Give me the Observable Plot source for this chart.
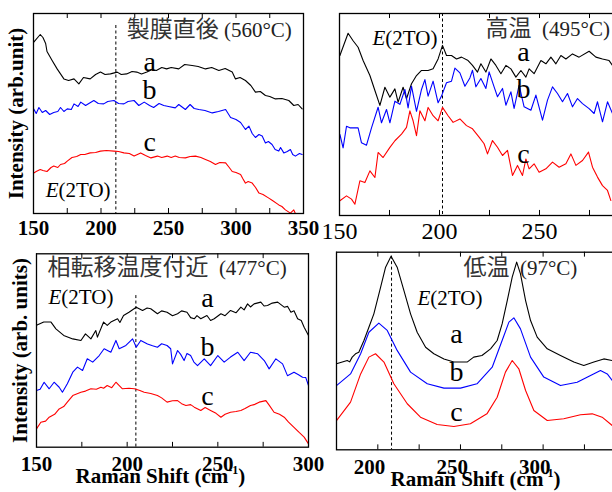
<!DOCTYPE html>
<html><head><meta charset="utf-8">
<script src="https://cdn.jsdelivr.net/npm/d3@7"></script>
<script src="https://cdn.jsdelivr.net/npm/@observablehq/plot@0.6"></script>
<style>
body{margin:0;background:#fff;}
#wrap{position:relative;width:612px;height:492px;overflow:hidden;background:#fff;}
#wrap svg{position:absolute;}
</style></head><body><div id="wrap"></div>
<script>
// ---------- Panel 1: 製膜直後 (560°C) ----------
const p1a = [[150.2,85.7],[155,89.5],[157,88],[159,85],[160,81],[163.8,76.5],[167.5,72.3],[172.5,67.3],[176,66.5],[180,67.3],[183.6,64.8],[187,68],[192,67.3],[196,69.5],[199.6,70.7],[203,69.5],[207,69.8],[212,70.7],[215,69.5],[219,69.8],[223,71],[226.5,70.7],[230,69.8],[234,70.7],[238,72],[241,71.5],[245,73],[248.6,72.3],[252,73],[257.6,72.3],[262,74.5],[267.5,74],[272,73.5],[277.4,72.3],[282,73],[287.3,71.5],[292,72.5],[297.2,70.7],[299.6,67.3],[303,68],[307,66.5],[311,64],[314.4,60.7],[318,61],[321.8,59],[325,58.5],[329.2,57.3],[334,57.5],[339.1,56.5],[342.8,54],[346,54.5],[349,52.3]];
const p1b = [[150.2,52.3],[152,50],[154,53],[156.5,50.5],[159,51.5],[162,49.5],[165,50.5],[168,51],[170,53],[172.5,51],[175,52.3],[178,52],[180,54.8],[183,53.5],[185,55.7],[188.6,54],[191,55],[194.7,56.5],[198,55],[202,54.8],[205,56],[209.6,56.5],[213,55],[217,54.8],[220,56],[224.5,56.5],[228,54],[232,55.7],[236,54],[239,53],[243,55],[246.5,54],[250,53.5],[255,52.8],[257.6,54.5],[262.5,52],[266,54.5],[269,52.5],[272.5,52],[277,51.5],[282.4,50.3],[287,51],[292.3,52],[296,48],[300,47],[303.4,45.5],[307,42],[309.6,43.7],[312,40],[314.4,38],[317,39.5],[319.4,38.7],[321.8,35.3],[324,36],[326.7,34.5],[329,32],[331.7,31.2],[333,33],[335.4,30.3],[338,31],[340.3,32],[342,29.5],[344,28.7],[347,30],[349,29.5]];
const p1c = [[150.2,20.3],[152,21],[155,22],[157,21.5],[160,21],[163,23],[165,23.7],[168,23],[170,24.5],[173,25],[175,26.2],[178.5,28],[182,28.5],[185,29.5],[188,29.5],[192,30.3],[196,30.5],[199.6,31.2],[204,31.5],[209.6,31.2],[213,31],[217,30.3],[221,30],[224.5,28.7],[227,29.5],[229.4,30.3],[233,29],[237,27.8],[241.8,28.7],[245,28],[249,28.7],[252,28],[255,28.7],[258,28],[262.5,27.8],[266,28.5],[270,28.7],[274,28],[277.4,27],[281,26],[284.8,24.5],[288,25.5],[292.3,25.3],[295,23],[297.2,21],[300,20.5],[303.4,19.5],[305,17.5],[307,15.2],[309,16],[312,15.2],[314.5,13],[317,10.2],[320,9.5],[324.3,7.7],[327,6.5],[331.7,4.3],[334,3.5],[336.6,1.8],[340.3,0.2],[342.8,1.8],[344,0]];

// ---------- Panel 2: 高温 (495°C) ----------
const p2a = [[150.2,79.2],[154.3,90.2],[156.8,86.5],[159.3,83.3],[161.8,76.7],[165.2,69.3],[167.7,61.9],[170.2,54.5],[172.7,63.5],[175.2,58.6],[177.7,62.7],[179.3,56.1],[181.8,63.5],[183.5,57.8],[186,65.2],[188.5,69.3],[191,71.8],[194.3,71.8],[196.8,72.6],[199.3,77.5],[201.5,84.2],[203.5,79.2],[206,79.2],[208.5,77.5],[211,78.4],[214.3,76.7],[216.5,74.3],[219,71],[220.7,75.1],[223.2,71],[225.7,77.5],[228.2,74.3],[230.7,70.2],[233.2,74.3],[235.7,72.6],[238.2,68.5],[240.7,71.8],[243.2,68.5],[244.8,72.6],[247.3,70.2],[250.7,76.7],[253.2,75.1],[255.7,78.4],[258.2,75.1],[260.7,79.2],[263.2,77.5],[266.5,80],[269.8,78.4],[274.8,81.3],[278.2,78.4],[281.5,77.5],[284.8,76.7],[286.5,74.3]];
const p2b = [[150.2,40.1],[151.8,33.5],[153.5,44.2],[155.2,43.4],[159.3,43.4],[161,36],[163.5,34.8],[166,43.4],[169.3,53.6],[171,45.9],[173.5,52.5],[175.2,45.9],[177.7,56.6],[180.2,55],[182.7,62.4],[184.3,53.3],[186,64],[188.5,51.6],[191,62.4],[192.7,67.3],[194.3,59.1],[196.8,66.5],[199.3,55.8],[201,59.1],[203.5,65.7],[206,66.5],[207.7,73],[210.2,70.6],[212.7,64],[215.2,68.1],[216.5,71.9],[218.2,63.7],[220.7,67.8],[223.2,62.9],[224.8,71.1],[227.3,63.7],[229,58.8],[231.5,62.9],[233.2,54.6],[235.7,61.2],[237.3,53],[239.8,64.5],[242.3,53.8],[245.7,52.1],[248.2,59.6],[251.5,47.2],[254,57.1],[256.5,63.7],[259,60.4],[261.5,56.3],[264,60.4],[266.5,53.8],[269,57.9],[271.5,55.4],[274.8,52.9],[277.3,50.5],[279,56.3],[281.5,46.4],[284,56.3],[286.5,50.5]];
const p2c = [[150.2,7.3],[153.5,9.7],[156,8.1],[157.7,5.6],[160.2,17.2],[162.7,16.3],[165.2,22.1],[167.7,18.8],[169.3,31.2],[171.8,28.7],[175.2,33.7],[177.7,37],[181,40.3],[183.5,43.6],[185.2,51.8],[186.8,46.9],[188.5,39.5],[190.2,51.8],[192.7,46.9],[194.3,53.5],[196.8,49.4],[199.3,46.9],[201.5,53.5],[204.3,49.4],[206.8,46.1],[210.2,47.8],[213.5,44.5],[216.5,42.9],[219.8,38.8],[222.3,35.5],[224,30.5],[226.5,37.1],[229,33.8],[231.5,29.7],[234,32.2],[236.5,19.8],[239,24.8],[241.5,19.8],[243.2,28],[244.8,23.1],[247.3,25.6],[249.8,21.4],[253.2,23.1],[256.5,26.4],[259.8,23.9],[263.2,25.6],[265.7,30.5],[268.2,24.8],[271.5,27.2],[274.5,31.4],[276.5,23.9],[279,19],[281.5,14.8],[284,12.4],[285.7,7.4]];

// ---------- Panel 3: 相転移温度付近 (477°C) ----------
const p3a = [[150,63],[154,64.7],[158,64.7],[160.7,61.2],[165,57.8],[170,56],[174.5,55.2],[177,58.6],[180,56],[182.7,60.3],[183.6,56.9],[187,64.7],[189,63],[191,64.7],[194.7,66.4],[196,64.5],[198,68.1],[201,69.8],[205,72.4],[208.5,70.7],[211,72],[213,71.6],[216.7,69],[219,70.5],[222,69.8],[225,68],[227.8,69],[230,70.5],[233,69.8],[235,67],[237,66.4],[238.5,68],[240.6,66.4],[244,68.1],[246,65.5],[248,66.4],[251.7,69],[254,68],[257,70.7],[260,69.5],[262.7,72.4],[264.5,71],[266.4,74.1],[268,72.5],[270,74.1],[273.7,75],[275.5,73],[277.4,73.3],[280,74.5],[283,75],[286.6,72.4],[288.5,72.8],[290.3,69.8],[292,70.5],[294,66.4],[296,65.5],[297.6,62],[300,57.8]];
const p3b = [[150,29.3],[152,30],[154.2,33.6],[157,30.2],[159.7,33.6],[162.5,31],[164.3,28.4],[167,32.8],[170,38.8],[172.6,41.4],[175.4,39.7],[178,45.7],[181,44],[184.6,47.4],[187.3,50.9],[191,49.1],[193.8,55.2],[195.6,50.9],[199.3,52.6],[203,56],[205,51.7],[207.5,55.2],[211.2,53.4],[214,52.5],[216.7,51.7],[219,53.5],[222,52.6],[224,50.9],[225,43.1],[227.8,50],[229.5,48],[231.4,44.8],[233,48.5],[235,47.4],[236.8,44],[238.8,42.2],[242.5,45.7],[246,42.2],[250,47.4],[253.5,44],[257,46.6],[261,49.1],[264.5,44.8],[268,49.1],[272,48.3],[275.6,44.8],[278.3,40.5],[282,45.7],[285.7,43.1],[288.4,37],[292,38.8],[294.5,37.5],[296.7,36.2],[298.5,36],[300,31.9]];
const p3c = [[150,9.5],[152.4,12.9],[155,13.5],[157,15.5],[160,17],[162.5,19.8],[165,21],[167,23.3],[170,26.7],[174.5,28.4],[177,29],[180,30.2],[183,30],[185.5,31],[187,30.5],[189,31.9],[191.5,30.8],[193.8,33.6],[195.5,32],[197.4,30.2],[201,30.5],[204,30.2],[207,29.3],[209.4,28.4],[213,27.8],[216.7,26.7],[219,25.5],[222,23.3],[225,24],[227.8,24.1],[230,22.5],[232.4,21.6],[235,22],[237,20.7],[240.6,19],[243,20.5],[246,19],[249,17.5],[251.7,15.5],[254,17],[257,18.1],[260,18.5],[262.7,19],[265,20],[268,21.6],[270,22],[272.8,23.3],[276.5,24.1],[278.5,21.5],[281,18.1],[284,17],[286.6,15.5],[289,13],[292,10.3],[295,7.5],[297.6,5.2],[300,1.7]];

// ---------- Panel 4: 低温 (97°C) ----------
const p4a = [[180,43.5],[183.5,44.4],[186.5,45.2],[188,44.5],[189.5,46.9],[191.5,48.6],[193.5,49.4],[196.6,55.3],[199.6,62],[202.6,68.8],[206.7,82.3],[209.7,92.4],[213,98],[216.7,92.4],[220.8,80.6],[224.8,68.8],[228.8,59.5],[233.9,51.9],[238.9,48.6],[245,46],[251,44.4],[259,44.4],[263,46.9],[268,47.7],[273.2,51.1],[277.2,55.3],[280.2,63.7],[283.3,75.5],[286.3,87.4],[289,95],[291.3,89],[294.4,75.5],[297.4,65.4],[301.4,57],[307.5,51.1],[315.5,47.7],[323.6,44.4],[329.6,42.7],[335.7,44.4],[341.7,46],[346.8,45.2]];
const p4b = [[180,32.5],[188.5,38.4],[194.6,48.6],[199.6,59.5],[205.6,64.1],[210.7,60.4],[216.7,50.3],[224.8,39.3],[234.9,33.4],[245,31.2],[255,31.2],[265,33.4],[274.2,41.8],[280.2,55.3],[284.3,64.6],[287.3,66.8],[291.3,61.2],[297.4,46.9],[305.4,36.8],[315.5,32.5],[325.6,34.2],[333.7,37.6],[339.7,40.1],[343.8,38.4],[346.8,35.1]];
const p4c = [[180,14.8],[188.5,24.1],[194.6,38.4],[199.6,46.9],[203.6,48.6],[208.7,44.4],[214.7,33.4],[222.8,23.3],[230.8,16.5],[240.9,12.8],[251,11.8],[261,13.2],[271,18.2],[277.2,26.6],[282.2,39.3],[286.3,45.2],[290.3,41],[294.4,30],[299.4,19.9],[307.5,14.8],[317.5,15.7],[327.6,17.7],[334.7,18.2],[340.7,16.5],[346.8,12.3]];

// ---------- tick labels and texts ----------
const ticks1 = [150, 200, 250, 300, 350];
const ticks2 = [150, 200, 250];
const ticks3 = [150, 200, 250, 300];
const ticks4 = [200, 250, 300];
const titleHeads = ["製膜直後", "高温", "相転移温度付近", "低温"];
const titleTemps = ["(560°C)", "(495°C)", "(477°C)", "(97°C)"];
const titleGaps = [" ", "\u00a0\u00a0", "\u00a0\u00a0", "\u00a0\u00a0"];
const seriesNames = ["a", "b", "c"];
const modeLabel = "E(2TO)";
const yLabels = ["Intensity (arb.unit)", "Intensity (arb. units)"];
const xLabel = "Raman Shift (cm-1)";
const colors = ["#000000", "#0000ff", "#ff0000"];

const FONT = "'Liberation Serif', 'Noto Sans CJK JP', serif";

function panel(c) {
  const minor = d3.range(c.x[0], c.x[1] + 0.1, 25);
  const title = titleHeads[c.i] + titleGaps[c.i] + titleTemps[c.i];
  const marks = [
    Plot.ruleX([c.dash], {y1: c.dashY[0], y2: c.dashY[1], stroke: "#000", strokeWidth: 1, strokeDasharray: "3,2.5"}),
    ...c.lines.map((d, i) => Plot.line(d, {x: p => p[0], y: p => p[1], stroke: colors[i], strokeWidth: 1.1})),
    Plot.ruleX(minor, {y1: 0, y2: 2.5, stroke: "#000", strokeWidth: 1}),
    Plot.ruleX(minor, {y1: 97.5, y2: 100, stroke: "#000", strokeWidth: 1}),
    Plot.frame({stroke: "#000", strokeWidth: 1.3}),
    Plot.text(c.ticks, {x: d => d, frameAnchor: "bottom", dy: c.tickDy, lineAnchor: "top", text: d => String(d), fontSize: c.tickSize, fontWeight: c.tickWeight, fill: "#000"}),
    Plot.text([title], {x: [c.titleAt[0]], y: [c.titleAt[1]], textAnchor: "start", lineAnchor: "bottom", fontSize: 21, fill: "#222"}),
    Plot.text([modeLabel], {x: [c.modeAt[0]], y: [c.modeAt[1]], textAnchor: "start", lineAnchor: "bottom", fontSize: 21, fill: "#000"}),
    Plot.text(seriesNames, {x: seriesNames.map(() => c.abcX), y: c.abcY, textAnchor: "middle", lineAnchor: "bottom", fontSize: 28, fill: "#000"})
  ];
  if (c.yLabel) marks.push(Plot.text([c.yLabel], {frameAnchor: "left", rotate: -90, dx: c.yLabelDx, textAnchor: "middle", lineAnchor: "middle", fontSize: 21, fontWeight: "bold", fill: "#000"}));
  if (c.xLabelAt) marks.push(Plot.text([xLabel], {x: [c.xLabelAt[0]], y: [c.xLabelAt[1]], textAnchor: "start", lineAnchor: "bottom", fontSize: 21, fontWeight: "bold", fill: "#000"}));
  const svg = Plot.plot({
    width: c.width, height: c.height,
    marginTop: c.m[0], marginRight: c.m[1], marginBottom: c.m[2], marginLeft: c.m[3],
    x: {domain: c.x, axis: null},
    y: {domain: [0, 100], axis: null},
    style: {fontFamily: FONT, background: "transparent", overflow: "visible"},
    marks
  });
  svg.style.left = c.left + "px";
  svg.style.top = c.top + "px";
  d3.select(svg).selectAll("text").each(function () {
    const t = this.textContent;
    const s = d3.select(this);
    if (t === modeLabel) {
      this.textContent = "";
      s.append("tspan").attr("font-style", "italic").text("E");
      s.append("tspan").text("(2TO)");
    } else if (t === xLabel) {
      this.textContent = "";
      s.append("tspan").text("Raman Shift (cm");
      s.append("tspan").attr("font-size", "12px").attr("dy", "-9").text("-1");
      s.append("tspan").attr("dy", "9").text(")");
    } else if (t === title) {
      this.textContent = "";
      s.append("tspan").attr("font-size", "23px").attr("font-family", "'Noto Sans CJK JP', sans-serif").attr("fill", "#333").text(titleHeads[c.i]);
      s.append("tspan").text(titleGaps[c.i] + titleTemps[c.i]);
    }
  });
  document.getElementById("wrap").appendChild(svg);
}

panel({i: 0, left: 0, top: 0, width: 330, height: 245, m: [13, 27, 32, 33], x: [150, 350],
  lines: [p1a, p1b, p1c], dash: 211, dashY: [94, 0],
  ticks: ticks1, tickDy: 7, tickSize: 21, tickWeight: "bold",
  titleAt: [219, 88.5], modeAt: [159, 8.2],
  abcX: 236, abcY: [71.5, 57.5, 31.5], yLabel: yLabels[0], yLabelDx: -17});

panel({i: 1, left: 315, top: 0, width: 340, height: 245, m: [13, 16, 30, 24], x: [150, 300],
  lines: [p2a, p2b, p2c], dash: 201.5, dashY: [100, 0],
  ticks: ticks2, tickDy: 6.5, tickSize: 24, tickWeight: "normal",
  titleAt: [223, 89.1], modeAt: [166.5, 84.2],
  abcX: 242, abcY: [76.7, 58.4, 26.2]});

panel({i: 2, left: 0, top: 240, width: 330, height: 252, m: [13.3, 22, 45.3, 36], x: [150, 300],
  lines: [p3a, p3b, p3c], dash: 204.8, dashY: [78.4, 0],
  ticks: ticks3, tickDy: 8.5, tickSize: 21, tickWeight: "bold",
  titleAt: [156, 88.8], modeAt: [156.6, 74.1],
  abcX: 244.3, abcY: [72.4, 47.4, 21.6], yLabel: yLabels[1], yLabelDx: -16,
  xLabelAt: [171.5, -18.3]});

panel({i: 3, left: 310, top: 240, width: 330, height: 252, m: [11.7, 23, 42.7, 26], x: [180, 350],
  lines: [p4a, p4b, p4c], dash: 213.3, dashY: [98, 0],
  ticks: ticks4, tickDy: 9, tickSize: 21, tickWeight: "bold",
  titleAt: [256.8, 88.7], modeAt: [229, 73.5],
  abcX: 252.6, abcY: [53.8, 34.6, 14.8], xLabelAt: [212.7, -18.4]});
</script>
</body></html>
